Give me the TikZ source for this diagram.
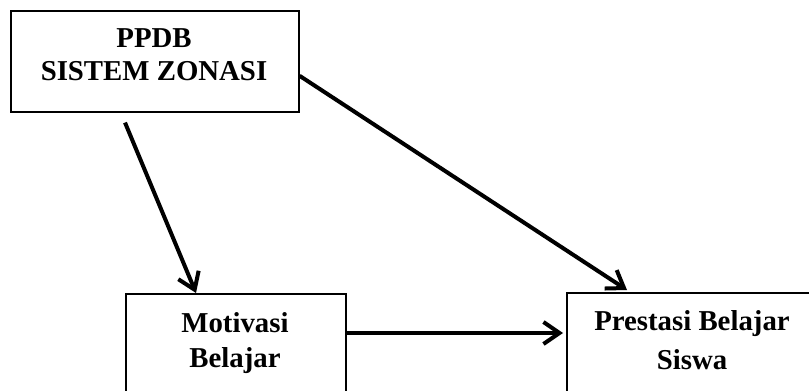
\documentclass[tikz,border=0pt]{standalone}
\usepackage{fontspec}
\setmainfont{Liberation Serif}
\usepackage{tikz}
\usetikzlibrary{calc,arrows.meta}
\tikzset{
  kotak/.style={draw,line width=0.8pt,inner sep=0pt,anchor=north west},
  teks/.style={inner sep=0pt,anchor=north,align=center,font=\bfseries\fontsize{14.4}{#1}\selectfont},
  teks/.default=16.5,
  panah/.style={line width=2pt,-{Straight Barb[length=8pt,width=11pt,line width=2pt]}}
}

\begin{document}
\begin{tikzpicture}[x=0.5pt,y=-0.5pt]
  \useasboundingbox (0,0) rectangle (809,391);
  \clip (0,0) rectangle (809,391);
  \node[kotak,minimum width=144pt,minimum height=50.5pt] (ppdb) at (10,10) {};
  \node[kotak,minimum width=110pt,minimum height=60pt] (mot) at (125,293) {};
  \node[kotak,minimum width=140pt,minimum height=60pt] (pres) at (566,292) {};
  \node[teks] (tppdb) at (154,28) {PPDB\\SISTEM ZONASI};
  \node[teks=17.5] (tmot) at (235,312) {Motivasi\\Belajar};
  \node[teks=19.5] (tpres) at (692,310) {Prestasi Belajar\\Siswa};
  % panah antar variabel
  \draw[panah] ($(ppdb.east)+(0,14.5)$) -- ($(pres.north west)+(61,-2)$);
  \draw[panah] ($(ppdb.south west)+(115,10)$) -- ($(mot.north west)+(71,0)$);
  \draw[panah] ($(mot.north east)+(0,40)$) -- ($(pres.north west)+(-3,41)$);
\end{tikzpicture}
\end{document}
